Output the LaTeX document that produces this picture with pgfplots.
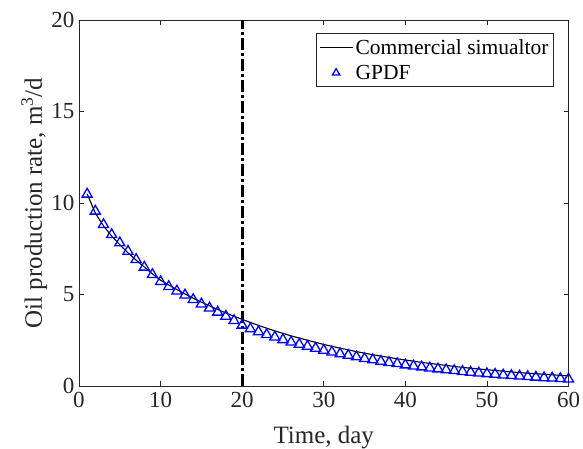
\documentclass[border=0pt]{standalone}
\usepackage{fontspec}
\setmainfont{Liberation Serif}
\usepackage{pgfplots}
\pgfplotsset{compat=1.18}

% Oil rate: reference simulator vs. GPDF proxy (daily)
\pgfplotstableread{
t q
1 10.50
2 9.45
3 8.75
4 8.20
5 7.72
6 7.28
7 6.88
8 6.50
9 6.13
10 5.78
11 5.52
12 5.27
13 5.03
14 4.80
15 4.58
16 4.38
17 4.18
18 3.99
19 3.81
20 3.64
22 3.31
24 3.01
26 2.74
28 2.50
30 2.27
32 2.07
34 1.88
36 1.71
38 1.56
40 1.42
42 1.29
44 1.18
46 1.07
48 0.97
50 0.89
52 0.81
54 0.73
56 0.67
58 0.61
60 0.55
}\simdata

\pgfplotstableread{
t q
1 10.48
2 9.55
3 8.82
4 8.27
5 7.82
6 7.36
7 6.91
8 6.49
9 6.09
10 5.70
11 5.43
12 5.19
13 4.97
14 4.72
15 4.48
16 4.26
17 4.03
18 3.81
19 3.57
20 3.32
21 3.12
22 2.96
23 2.81
24 2.67
25 2.53
26 2.40
27 2.28
28 2.17
29 2.06
30 1.95
31 1.85
32 1.76
33 1.67
34 1.59
35 1.50
36 1.43
37 1.35
38 1.28
39 1.22
40 1.15
41 1.09
42 1.04
43 0.98
44 0.93
45 0.88
46 0.84
47 0.79
48 0.75
49 0.71
50 0.67
51 0.64
52 0.60
53 0.57
54 0.54
55 0.51
56 0.48
57 0.45
58 0.43
59 0.40
60 0.38
}\gpdfdata

\definecolor{axisgray}{rgb}{0.15,0.15,0.15}

\pgfplotsset{
  legline/.style={legend image code/.code={\draw[##1] (0pt,0pt) -- (33pt,0pt);}},
  legmark/.style={legend image code/.code={\draw[##1, mark size=4.2pt] plot coordinates {(16pt,0pt)};}},
}

\begin{document}
\begin{tikzpicture}
\begin{axis}[
  scale only axis,
  width=489.5pt, height=366pt,
  xmin=0, xmax=60, ymin=0, ymax=20,
  xtick={0,10,...,60}, ytick={0,5,...,20},
  tick align=inside,
  major tick length=5pt,
  axis line style={axisgray, line width=0.6pt},
  every tick/.style={axisgray, line width=0.6pt},
  /pgf/number format/assume math mode=true,
  tick label style={font=\fontsize{23}{27}\selectfont, text=axisgray},
  xticklabel style={yshift=-3pt},
  yticklabel style={xshift=-1pt},
  label style={font=\fontsize{25}{29}\selectfont, text=axisgray},
  xlabel={Time, day},
  ylabel={Oil production rate, m\textsuperscript{3}/d},
  xlabel style={at={(axis description cs:0.5,0)}, anchor=base, yshift=-57pt},
  ylabel style={at={(axis description cs:-0.0756,0.5)}, anchor=base},
  legend cell align=left,
  legend style={
    at={(0.97,0.9637)}, anchor=north east,
    draw=axisgray, line width=0.6pt,
    font=\fontsize{21.5}{24}\selectfont,
    inner xsep=3pt, inner ysep=4pt,
    row sep=5pt,
  },
]
  \coordinate (O) at (rel axis cs:0,0);

  \addplot[black, line width=1.1pt, legline]
    table[x=t, y=q] {\simdata};
  \addlegendentry{Commercial simualtor}

  \addplot[only marks, blue, mark=triangle, mark size=5.8pt,
    mark options={line width=1.3pt}, legmark]
    table[x=t, y=q] {\gpdfdata};
  \addlegendentry{GPDF}

  % start of the forecast period
  \addplot[black, line width=3pt, dash pattern=on 12pt off 3pt on 3pt off 3pt, forget plot]
    coordinates {(20,0) (20,20)};
\end{axis}
\pgfresetboundingbox
\path[use as bounding box] ([shift={(-79pt,-63pt)}]O) rectangle ++(583pt,449pt);
\end{tikzpicture}
\end{document}
